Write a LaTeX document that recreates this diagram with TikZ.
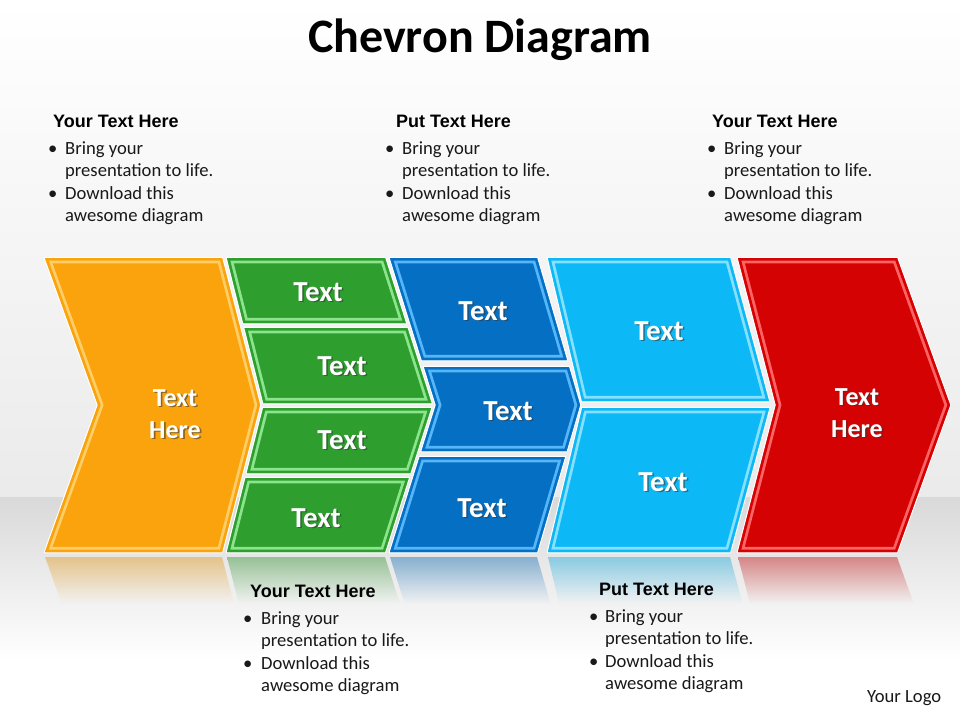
\documentclass[tikz,border=0pt]{standalone}
\usepackage{fontspec}
\setmainfont{Carlito}
\newfontfamily\headfont{Liberation Sans}
\definecolor{cOr}{RGB}{250,163,12}
\definecolor{cOrL}{RGB}{255,206,105}
\definecolor{cGr}{RGB}{46,158,46}
\definecolor{cGrL}{RGB}{140,228,140}
\definecolor{cBl}{RGB}{5,112,195}
\definecolor{cBlL}{RGB}{85,182,250}
\definecolor{cLb}{RGB}{12,184,245}
\definecolor{cLbL}{RGB}{135,224,255}
\definecolor{cRd}{RGB}{212,2,2}
\definecolor{cRdL}{RGB}{255,100,100}
\newcommand\mkpiece[8]{%
  \pgfmathsetmacro\pA{#1+#2*(1-abs(#5-405)/147)}%
  \pgfmathsetmacro\pB{#3+#4*(1-abs(#5-405)/147)}%
  \pgfmathsetmacro\pC{#1+#2*(1-abs(#6-405)/147)}%
  \pgfmathsetmacro\pD{#3+#4*(1-abs(#6-405)/147)}%
  \pgfmathsetmacro\pE{#1+#2}%
  \pgfmathsetmacro\pF{#3+#4}%
  \pgfmathsetmacro\rT{1109-#5}%
  \pgfmathsetmacro\rB{1109-#6}%
  \pgfmathtruncatemacro\pX{and(#5<405,#6>405)}%
  \ifnum\pX=1
    \def\pp{(\pA,#5) -- (\pB,#5) -- (\pF,405) -- (\pD,#6) -- (\pC,#6) -- (\pE,405) -- cycle}%
    \def\ppr{(\pA,\rT) -- (\pB,\rT) -- (\pF,704) -- (\pD,\rB) -- (\pC,\rB) -- (\pE,704) -- cycle}%
  \else
    \def\pp{(\pA,#5) -- (\pB,#5) -- (\pD,#6) -- (\pC,#6) -- cycle}%
    \def\ppr{(\pA,\rT) -- (\pB,\rT) -- (\pD,\rB) -- (\pC,\rB) -- cycle}%
  \fi
  \draw[white, line width=2.5pt, line join=round] \pp;
  \fill[#7] \pp;
  \begin{scope}
    \clip \pp;
    \draw[#8, line width=10.5pt] \pp;
    \draw[#7, line width=5pt] \pp;
  \end{scope}%
}
\newcommand\mkrefl[1]{%
  \begin{scope}
    \clip \ppr;
    \shade[top color=#1!42!white!90!black, bottom color=white!95!black] (0,557) rectangle (960,604);
  \end{scope}%
}
\newcommand\ctext[5]{%
  \node[ctx, font={\bfseries\fontsize{#4}{32}\selectfont}, text=black!80, opacity=.55] (#1s) at ({#2+1.6},{#3+1.6}) {#5};
  \node[ctx, font={\bfseries\fontsize{#4}{32}\selectfont}] (#1) at (#2,#3) {#5};
}
\newcommand\tblock[6]{%
  \node[head] (#1h) at (#3,#4) {#2};
  \node[body] (#1p) at (#5,{#4+27}) {\textbullet};
  \node[body] (#1a) at (#6,{#4+27}) {Bring your};
  \node[body] (#1b) at (#6,{#4+49.5}) {presentation to life.};
  \node[body] (#1q) at (#5,{#4+72}) {\textbullet};
  \node[body] (#1c) at (#6,{#4+72}) {Download this};
  \node[body] (#1d) at (#6,{#4+94.5}) {awesome diagram};
}
\begin{document}
\begin{tikzpicture}[x=1pt, y=-1pt,
  ctx/.style={text=white, align=center, inner sep=0},
  head/.style={font={\headfont\bfseries\fontsize{18}{20}\selectfont}, inner sep=0, anchor=base west},
  body/.style={font={\fontsize{18.6}{22}\selectfont}, inner sep=0, anchor=base west, text=black!90}]
\useasboundingbox (0,0) rectangle (960,720);
% background
\shade[top color=white, bottom color=black!8] (0,0) rectangle (960,497);
\shade[top color=black!15, bottom color=white] (0,497) rectangle (960,660);
\fill[white] (0,660) rectangle (960,720);
% title
\node[font={\bfseries\fontsize{48}{50}\selectfont}, inner sep=0, anchor=base] (title) at (480,52) {Chevron Diagram};
% orange
\mkpiece{45}{53}{222}{38}{258}{552}{cOr}{cOrL}
\mkrefl{cOr}
% green
\mkpiece{227}{37}{385}{47}{258}{323}{cGr}{cGrL}
\mkpiece{227}{37}{385}{47}{328}{403}{cGr}{cGrL}
\mkpiece{227}{37}{385}{47}{408}{473}{cGr}{cGrL}
\mkpiece{227}{37}{385}{47}{478}{552}{cGr}{cGrL}
\mkrefl{cGr}
% blue
\mkpiece{390}{46}{537}{43}{258}{360}{cBl}{cBlL}
\mkpiece{390}{46}{537}{43}{367}{451}{cBl}{cBlL}
\mkpiece{390}{46}{537}{43}{457}{552}{cBl}{cBlL}
\mkrefl{cBl}
% light blue
\mkpiece{548}{35}{730}{40}{258}{401}{cLb}{cLbL}
\mkpiece{548}{35}{730}{40}{408}{552}{cLb}{cLbL}
\mkrefl{cLb}
% red
\mkpiece{738}{38}{897}{53}{258}{552}{cRd}{cRdL}
\mkrefl{cRd}
% labels in shapes
\ctext{oT}{175}{414}{26}{Text\\Here}
\ctext{g1}{318}{292}{29}{Text}
\ctext{g2}{342}{366}{29}{Text}
\ctext{g3}{342}{440}{29}{Text}
\ctext{g4}{316}{518}{29}{Text}
\ctext{b1}{483}{311}{29}{Text}
\ctext{b2}{508}{411}{29}{Text}
\ctext{b3}{482}{508}{29}{Text}
\ctext{l1}{659}{331}{29}{Text}
\ctext{l2}{663}{482}{29}{Text}
\ctext{rT}{857}{413}{26}{Text\\Here}
% text blocks
\tblock{t1}{Your Text Here}{53}{127}{48}{65}
\tblock{t2}{Put Text Here}{396}{127}{385}{402}
\tblock{t3}{Your Text Here}{712}{127}{707}{724}
\tblock{t4}{Your Text Here}{250}{597}{243}{261}
\tblock{t5}{Put Text Here}{599}{595}{589}{605}
\node[body] (logo) at (867,702) {Your Logo};
\end{tikzpicture}
\end{document}
